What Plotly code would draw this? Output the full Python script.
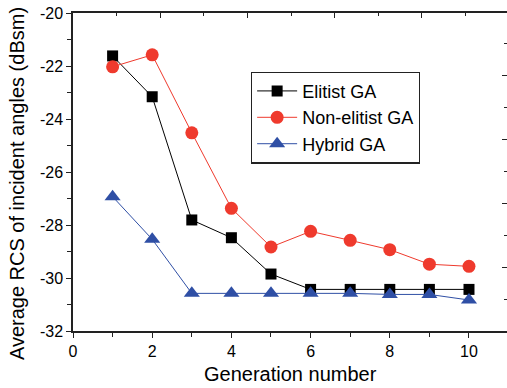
import plotly.graph_objects as go

generations = [1, 2, 3, 4, 5, 6, 7, 8, 9, 10]
elitist = [-21.62, -23.16, -27.81, -28.48, -29.85, -30.43, -30.43, -30.43, -30.43, -30.43]
non_elitist = [-22.03, -21.58, -24.52, -27.37, -28.83, -28.24, -28.58, -28.93, -29.48, -29.56]
hybrid = [-26.93, -28.54, -30.58, -30.58, -30.58, -30.58, -30.58, -30.62, -30.62, -30.83]

x_ticks = [0, 2, 4, 6, 8, 10]
y_ticks = [-32, -30, -28, -26, -24, -22, -20]

FONT = "Liberation Sans, Arial, sans-serif"
AX = "#222222"

fig = go.Figure()
fig.add_trace(go.Scatter(x=generations, y=elitist, name="Elitist GA", mode="lines+markers",
                         line=dict(color="#000000", width=1),
                         marker=dict(symbol="square", size=11, color="#000000")))
fig.add_trace(go.Scatter(x=generations, y=non_elitist, name="Non-elitist GA", mode="lines+markers",
                         line=dict(color="#ef3a2d", width=1),
                         marker=dict(symbol="circle", size=13, color="#ef3a2d")))
fig.add_trace(go.Scatter(x=generations, y=hybrid, name="Hybrid GA", mode="lines+markers",
                         line=dict(color="#2f4fa5", width=1),
                         marker=dict(symbol="triangle-up", size=14, color="#2f4fa5")))
# helper trace so the mirrored top/right axes get drawn
fig.add_trace(go.Scatter(x=[None], y=[None], xaxis="x2", yaxis="y2", showlegend=False,
                         hoverinfo="skip"))

fig.update_layout(
    width=507, height=388,
    margin=dict(l=73, r=0, t=13, b=57, autoexpand=False),
    paper_bgcolor="white", plot_bgcolor="white",
    font=dict(family=FONT, size=16, color="#000000"),
    showlegend=True,
    legend=dict(x=0.41, y=0.816, xanchor="left", yanchor="top",
                bgcolor="white", bordercolor="#222222", borderwidth=1.2,
                font=dict(family=FONT, size=18, color="#000000"),
                itemwidth=40, tracegroupgap=0),
    xaxis=dict(range=[0, 10.96], tickvals=x_ticks, ticks="outside", ticklen=5, tickwidth=1.2,
               tickcolor=AX, showline=True, linecolor=AX, linewidth=1.5, showgrid=False,
               zeroline=False, tickfont=dict(size=16), automargin=False,
               minor=dict(dtick=1, tick0=0, ticks="outside", ticklen=4, tickcolor=AX, showgrid=False)),
    yaxis=dict(range=[-32, -20], tickvals=y_ticks, ticktext=[str(v) for v in y_ticks],
               ticks="outside", ticklen=5, tickwidth=1.2,
               tickcolor=AX, showline=True, linecolor=AX, linewidth=1.5, showgrid=False,
               zeroline=False, tickfont=dict(size=16), automargin=False,
               minor=dict(dtick=1, tick0=-32, ticks="outside", ticklen=4, tickcolor=AX, showgrid=False)),
    xaxis2=dict(overlaying="x", side="top", anchor="y", range=[0, 9.95], dtick=2, tick0=0,
                ticks="inside", ticklen=5, tickwidth=1.2, tickcolor=AX, showticklabels=False,
                showline=True, linecolor=AX, linewidth=1.5, showgrid=False, zeroline=False,
                automargin=False,
                minor=dict(dtick=1, tick0=0, ticks="inside", ticklen=3, tickcolor=AX, showgrid=False)),
    yaxis2=dict(overlaying="y", side="right", anchor="x", range=[0, 9.94], dtick=2, tick0=0,
                ticks="inside", ticklen=5, tickwidth=1.2, tickcolor=AX, showticklabels=False,
                showline=True, linecolor=AX, linewidth=1.5, showgrid=False, zeroline=False,
                automargin=False,
                minor=dict(dtick=1, tick0=0, ticks="inside", ticklen=3, tickcolor=AX, showgrid=False)),
    annotations=[
        dict(text="Generation number", xref="paper", yref="paper", x=0.5, y=-0.135,
             xanchor="center", yanchor="middle", showarrow=False, font=dict(size=20)),
        dict(text="Average RCS of incident angles (dBsm)", xref="paper", yref="paper",
             x=-0.129, y=0.462, xanchor="center", yanchor="middle", textangle=-90,
             showarrow=False, font=dict(size=20)),
    ],
)

# remove the default 8px page margin so the figure sits at the window's top-left corner
fig.write_html("out.html", config={"displayModeBar": False},
               post_script="document.body.style.margin='0';")
